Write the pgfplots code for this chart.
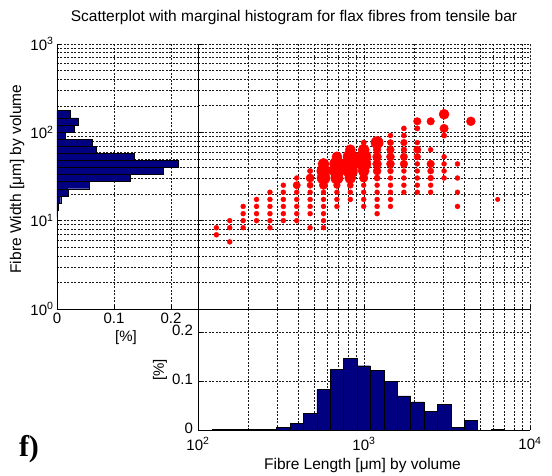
\documentclass[border=0pt]{standalone}
\usepackage{pgfplots}
\pgfplotsset{compat=1.18}
\usepackage{fontspec}
\setmainfont{Liberation Sans}
\newfontfamily\serifbold{Liberation Serif}
\definecolor{barblue}{RGB}{0,0,128}
\pgfplotsset{
  mygrid/.style={
    scale only axis,
    anchor=south west,
    grid=both,
    major grid style={draw=black!90, dash pattern=on 2pt off 1.5pt, line width=0.5pt},
    minor grid style={draw=black!90, dash pattern=on 2pt off 1.5pt, line width=0.5pt},
    tick align=inside,
    major tick length=4pt, minor tick length=2pt,
    tick style={black, line width=0.5pt},
    axis line style={black, line width=0.6pt},
    every tick label/.append style={font=\fontsize{15}{17}\selectfont},
    /pgf/number format/assume math mode=true,
    xticklabel style={/pgf/number format/fixed},
    yticklabel style={/pgf/number format/fixed},
  },
}
\pgfplotstableread{
x y s
129.0 8.32 2.2
129.0 6.92 2.2
155.3 10.0 2.2
155.3 8.32 2.2
155.3 5.75 2.2
187.1 14.5 2.2
187.1 12.0 2.2
187.1 10.0 2.2
187.1 8.32 2.2
225.2 17.4 2.2
225.2 14.5 2.2
225.2 12.0 2.2
225.2 10.0 2.2
271.3 21.0 2.2
271.3 17.4 2.2
271.3 14.5 2.2
271.3 12.0 2.2
271.3 10.0 2.2
271.3 8.32 2.2
326.6 25.2 2.2
326.6 21.0 2.2
326.6 17.4 2.2
326.6 14.5 2.2
326.6 12.0 2.2
326.6 10.0 2.2
393.3 30.4 2.2
393.3 25.2 3.3
393.3 21.0 2.2
393.3 17.4 2.2
393.3 14.5 2.2
393.3 12.0 2.2
393.3 10.0 2.2
473.6 36.5 2.4
473.6 30.4 3.7
473.6 25.2 2.8
473.6 21.0 2.2
473.6 17.4 2.2
473.6 14.5 2.2
473.6 12.0 2.2
473.6 8.32 2.2
570.4 43.9 5.0
570.4 36.5 6.0
570.4 30.4 5.8
570.4 25.2 3.8
570.4 21.0 2.2
570.4 17.4 2.2
570.4 14.5 2.2
570.4 12.0 2.2
570.4 10.0 2.2
570.4 8.32 2.2
686.8 52.9 4.5
686.8 43.9 6.5
686.8 36.5 6.5
686.8 30.4 5.5
686.8 25.2 3.0
686.8 21.0 2.2
686.8 17.4 2.2
686.8 14.5 2.2
827.0 63.6 4.5
827.0 52.9 6.5
827.0 43.9 7.0
827.0 36.5 6.5
827.0 30.4 5.0
827.0 25.2 2.8
827.0 21.0 2.2
827.0 17.4 2.2
995.9 76.5 2.4
995.9 63.6 5.0
995.9 52.9 6.5
995.9 43.9 6.5
995.9 36.5 5.0
995.9 30.4 3.8
995.9 25.2 2.2
995.9 21.0 2.2
995.9 17.4 2.2
995.9 14.5 2.2
1199.3 76.5 5.5
1199.3 63.6 3.5
1199.3 52.9 4.0
1199.3 43.9 4.0
1199.3 36.5 3.6
1199.3 30.4 2.8
1199.3 25.2 2.2
1199.3 21.0 2.2
1199.3 17.4 2.2
1199.3 14.5 2.2
1199.3 12.0 2.2
1444.1 92.1 2.2
1444.1 76.5 2.8
1444.1 63.6 3.4
1444.1 52.9 3.6
1444.1 43.9 3.6
1444.1 36.5 2.6
1444.1 30.4 2.2
1444.1 25.2 2.2
1444.1 21.0 2.2
1444.1 17.4 2.2
1444.1 14.5 2.2
1739.0 110.8 2.3
1739.0 92.1 2.3
1739.0 76.5 3.0
1739.0 63.6 2.6
1739.0 52.9 3.3
1739.0 43.9 3.4
1739.0 36.5 2.2
1739.0 30.4 2.2
1739.0 25.2 2.2
1739.0 21.0 2.2
2094.1 133.3 3.4
2094.1 110.8 2.4
2094.1 76.5 2.2
2094.1 63.6 3.3
2094.1 52.9 3.0
2094.1 43.9 2.2
2094.1 36.5 2.2
2094.1 30.4 2.2
2094.1 25.2 2.2
2094.1 21.0 2.2
2521.7 133.3 3.4
2521.7 63.6 2.2
2521.7 43.9 3.4
2521.7 36.5 2.8
2521.7 30.4 2.6
2521.7 25.2 2.2
2521.7 21.0 2.2
3036.6 160.3 4.5
3036.6 110.8 3.8
3036.6 92.1 2.4
3036.6 52.9 2.2
3036.6 43.9 2.2
3036.6 36.5 2.2
3036.6 30.4 2.2
3656.6 43.9 2.2
3656.6 30.4 2.2
3656.6 21.0 2.2
3656.6 14.5 2.2
4403.3 133.3 4.0
6385.0 17.4 2.0
}\scatterdata
\begin{document}
\begin{tikzpicture}
\useasboundingbox (0pt,0pt) rectangle (552pt,475pt);
% scatter
\begin{axis}[mygrid, at={(198pt,166pt)}, width=332pt, height=265pt,
  xmode=log, xmin=100, xmax=10000, xtick={100,1000,10000},
  minor xtick={200,300,400,500,600,700,800,900,2000,3000,4000,5000,6000,7000,8000,9000},
  ymode=log, ymin=1, ymax=1000, ytick={1,10,100,1000},
  minor ytick={2,3,4,5,6,7,8,9,20,30,40,50,60,70,80,90,200,300,400,500,600,700,800,900},
  xticklabels={}, yticklabels={},
  axis x line*=bottom, axis y line*=left]
\addplot[scatter, only marks, mark=*, point meta=explicit,
  scatter/use mapped color={draw=red, fill=red},
  visualization depends on={\thisrow{s} \as \ms},
  scatter/@pre marker code/.append style={/tikz/mark size=1.12*\ms pt}]
  table[x=x, y=y, meta=s] {\scatterdata};
\draw[black!45, line width=0.6pt] (rel axis cs:1,0) -- (rel axis cs:1,1);
\end{axis}
% left histogram
\begin{axis}[mygrid, at={(57pt,166pt)}, width=141pt, height=265pt,
  ymode=log, ymin=1, ymax=1000, ytick={1,10,100,1000},
  minor ytick={2,3,4,5,6,7,8,9,20,30,40,50,60,70,80,90,200,300,400,500,600,700,800,900},
  xmin=0, xmax=0.2474, xtick={0,0.1,0.2},
  yticklabels={10\textsuperscript{0},10\textsuperscript{1},10\textsuperscript{2},10\textsuperscript{3}},
  axis x line*=bottom, axis y line*=left]
\addplot[xbar interval, fill=barblue, draw=black, line width=0.4pt] coordinates {
(0.001,11.0) (0.002,13.2) (0.0065,15.9) (0.019,19.1) (0.056,23.0) (0.129,27.7)
(0.186,33.3) (0.213,40.1) (0.136,48.2) (0.068,58.0) (0.062,69.8) (0.015,83.9)
(0.030,100.9) (0.038,121.4) (0.023,146.2) (0,175.8)};
\end{axis}
% bottom histogram
\begin{axis}[mygrid, at={(198pt,45pt)}, width=332pt, height=121pt,
  xmode=log, xmin=100, xmax=10000, xtick={100,1000,10000},
  minor xtick={200,300,400,500,600,700,800,900,2000,3000,4000,5000,6000,7000,8000,9000},
  ymin=0, ymax=0.2485, ytick={0,0.1,0.2},
  xticklabels={10\textsuperscript{2},10\textsuperscript{3},10\textsuperscript{4}},
  xticklabel style={yshift=-4pt},
  yticklabel style={xshift=-1.5pt, yshift=2pt},
  axis x line*=bottom, axis y line*=left]
\addplot[ybar interval, fill=barblue, draw=black, line width=0.4pt] coordinates {
(121.0,0.0008) (141.6,0.0008) (170.6,0.0008) (205.4,0.0008) (247.2,0.0008)
(297.8,0.005) (358.6,0.014) (431.8,0.034) (520.0,0.083) (626.2,0.124)
(754.2,0.147) (908.2,0.132) (1093.7,0.123) (1317.1,0.100) (1586.1,0.070)
(1910.1,0.058) (2300.3,0.039) (2770.1,0.053) (3335.9,0.006) (4017.3,0.020)
(4837.9,0) (5826.1,0.001) (7016.2,0)};
\draw[black!45, line width=0.6pt] (rel axis cs:1,0) -- (rel axis cs:1,1);
\end{axis}
% texts
\node[font=\fontsize{15.5}{17}\selectfont] at (294pt,458pt)
  {Scatterplot with marginal histogram for flax fibres from tensile bar};
\node[rotate=90, font=\fontsize{15.5}{17}\selectfont] at (17pt,296pt)
  {Fibre Width [μm] by volume};
\node[anchor=base, font=\fontsize{15.5}{17}\selectfont] at (362.5pt,6pt)
  {Fibre Length [μm] by volume};
\node[font=\fontsize{15}{17}\selectfont] at (126pt,137pt) {[\%]};
\node[rotate=90, font=\fontsize{15}{17}\selectfont] at (160pt,105pt) {[\%]};
\node[font=\serifbold\bfseries\fontsize{30}{32}\selectfont] at (29pt,26pt) {f)};
\end{tikzpicture}
\end{document}
